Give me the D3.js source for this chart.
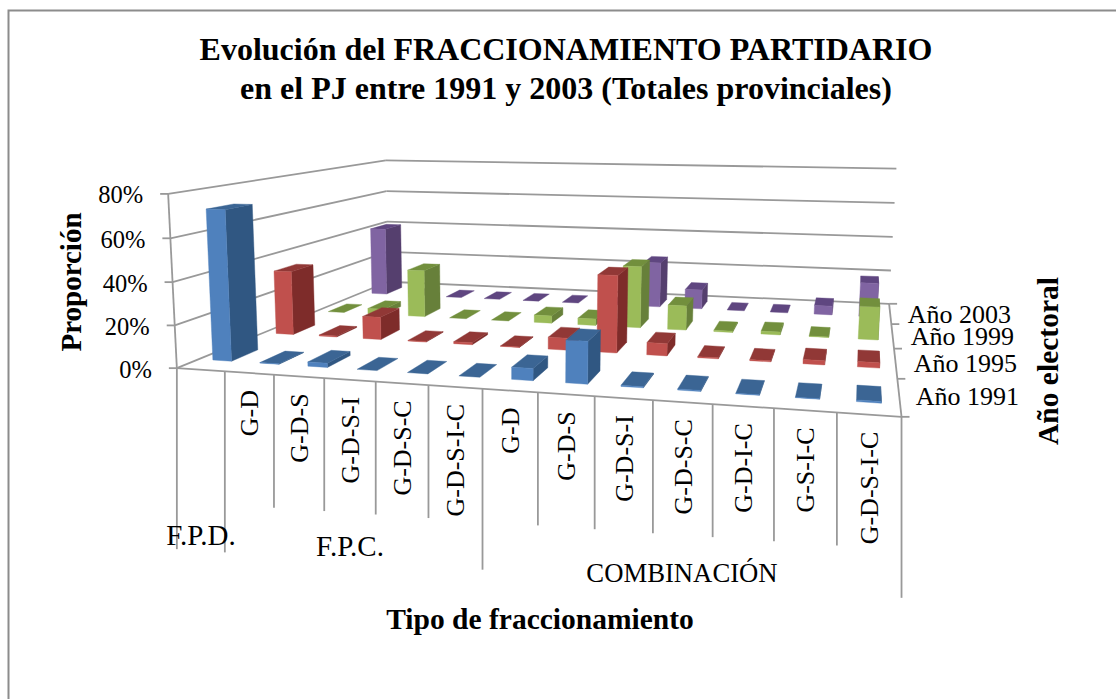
<!DOCTYPE html>
<html><head><meta charset="utf-8">
<script src="https://cdn.jsdelivr.net/npm/d3@7/dist/d3.min.js"></script>
<style>html,body{margin:0;padding:0;background:#fff}svg{display:block}text{font-family:"Liberation Serif","Times New Roman",serif;fill:#000}</style>
</head><body><div id="chart"></div>
<script>
const categories = ["", "G-D", "G-D-S", "G-D-S-I", "G-D-S-C", "G-D-S-I-C", "G-D", "G-D-S", "G-D-S-I", "G-D-S-C", "G-D-I-C", "G-S-I-C", "G-D-S-I-C"];
const groups = ["F.P.D.", "F.P.C.", "COMBINACIÓN"];
const groupBreaks = [0, 1, 6, 13];
const seriesNames = ["Año 1991", "Año 1995", "Año 1999", "Año 2003"];
const v1991 = [71.5, 0.2, 2, 0, 0, 0, 5.5, 19, 0.5, 0.5, 0.2, 0.2, 0.7];
const v1995 = [33, 0.5, 11.5, 0.3, 1, 0.2, 6, 38, 6, 0.5, 0.5, 2, 2.5];
const v1999 = [0, 3, 26, 0, 0, 4, 3.5, 33, 13, 0.7, 1.5, 0.2, 17];
const v2003 = [40.5, 0, 0, 0, 0, 0, 0, 26, 11, 0, 0, 5, 19];
const yTicks = [0, 20, 40, 60, 80];
const yMax = 80;
const seriesValues = [v1991, v1995, v1999, v2003];
const frontColors = ["#4f81bd", "#c0504d", "#9bbb59", "#8064a2"];
const topColors = ["#3b6594", "#913836", "#728f3d", "#5f4680"];
const sideColors = ["#305782", "#7e2c2a", "#67803a", "#553f6e"];

const W = 1116, H = 699;
const svg = d3.select("#chart").append("svg").attr("width", W).attr("height", H);

// Perspective camera: calibrated from the plot box corners (u along categories, v in depth, h up).
const cal = [
  [0,0,0, 178,367.5],[1,0,0, 901.5,417.5],[1,1,0, 889.5,303],[0,1,0, 387,282.5],
  [0,0,1, 167,194],[0,1,1, 387,160],[1,1,1, 896,169]
];
function solveCamera(points){
  const A = [], b = [];
  points.forEach(([u,v,h,x,y]) => {
    A.push([u,v,h,1,0,0,0,0,-x*u,-x*v,-x*h]); b.push(x);
    A.push([0,0,0,0,u,v,h,1,-y*u,-y*v,-y*h]); b.push(y);
  });
  const n = 11, M = [];
  for (let i=0;i<n;i++){
    const row = [];
    for (let j=0;j<n;j++) row.push(d3.sum(A,r=>r[i]*r[j]));
    row.push(d3.sum(A,(r,k)=>r[i]*b[k]));
    M.push(row);
  }
  for (let c=0;c<n;c++){
    let p=c; for(let r=c+1;r<n;r++) if(Math.abs(M[r][c])>Math.abs(M[p][c])) p=r;
    [M[c],M[p]]=[M[p],M[c]];
    for(let r=0;r<n;r++){ if(r===c) continue; const f=M[r][c]/M[c][c]; for(let k=c;k<=n;k++) M[r][k]-=f*M[c][k]; }
  }
  return M.map((r,i)=>r[n]/r[i]);
}
const P = solveCamera(cal);
function project(u,v,h){
  const w = P[8]*u+P[9]*v+P[10]*h+1;
  return [(P[0]*u+P[1]*v+P[2]*h+P[3])/w,(P[4]*u+P[5]*v+P[6]*h+P[7])/w];
}

const xBand = d3.scaleBand().domain(d3.range(categories.length)).range([0,1]).paddingInner(0.6).paddingOuter(0.3);
const zBand = d3.scaleBand().domain(d3.range(seriesNames.length)).range([0,1]).paddingInner(0.6).paddingOuter(0.3);
const yScale = d3.scaleLinear().domain([0,yMax]).range([0,1]);
const gridColor = "#999999";
const lineGen = d3.line();

// Chart frame
svg.append("path").attr("d",lineGen([[8.5,H],[8.5,10.5],[W,10.5]])).attr("fill","none").attr("stroke","#8c8c8c").attr("stroke-width",2);

// Walls and floor lines
const gridG = svg.append("g").attr("fill","none").attr("stroke",gridColor).attr("stroke-width",1.8);
function seg(a,b){ gridG.append("path").attr("d",lineGen([a,b])); }
yTicks.forEach(t=>{
  const h=yScale(t), a=project(0,0,h), b=project(0,1,h), c=project(1,1,h);
  seg(a,b); seg(b,c); seg([a[0]-8,a[1]],a);
});
seg(project(0,0,0),project(0,0,1));
seg(project(0,0,0),project(1,0,0));
seg(project(1,0,0),project(1,1,0));
d3.range(seriesNames.length+1).forEach(i=>{
  const p=project(1,i/seriesNames.length,0); seg(p,[p[0]+8,p[1]]);
});
const shortTick=133, longTick=181;
d3.range(categories.length+1).forEach(i=>{
  const p=project(i/categories.length,0,0);
  seg(p,[p[0],p[1]+(groupBreaks.includes(i)?longTick:shortTick)]);
});

// Bars, painted far rows first and left to right
const barsG = svg.append("g");
function face(pts,color){ barsG.append("path").attr("d",lineGen(pts)+"Z").attr("fill",color).attr("stroke",color).attr("stroke-width",0.4); }
d3.range(seriesValues.length).reverse().forEach(s=>{
  seriesValues[s].forEach((val,c)=>{
    const u0=xBand(c),u1=u0+xBand.bandwidth(),v0=zBand(s),v1=v0+zBand.bandwidth(),h=yScale(val);
    if(val>0) face([project(u1,v0,0),project(u1,v1,0),project(u1,v1,h),project(u1,v0,h)],sideColors[s]);
    face([project(u0,v0,h),project(u1,v0,h),project(u1,v1,h),project(u0,v1,h)],topColors[s]);
    if(val>0) face([project(u0,v0,0),project(u1,v0,0),project(u1,v0,h),project(u0,v0,h)],frontColors[s]);
  });
});

// Text
function txt(x,y,s,size,opts={}){
  const t=svg.append("text").attr("x",x).attr("y",y).attr("font-size",size).text(s);
  if(opts.bold) t.attr("font-weight","bold");
  if(opts.anchor) t.attr("text-anchor",opts.anchor);
  if(opts.rot) t.attr("transform",`rotate(-90 ${x} ${y})`);
  return t;
}
txt(566,60,"Evolución del FRACCIONAMIENTO PARTIDARIO",32,{bold:true,anchor:"middle"});
txt(566,99,"en el PJ entre 1991 y 2003 (Totales provinciales)",32,{bold:true,anchor:"middle"});
txt(540,629,"Tipo de fraccionamiento",29.5,{bold:true,anchor:"middle"});
txt(81,282,"Proporción",29,{bold:true,anchor:"middle",rot:true});
txt(1058,361,"Año electoral",29.5,{bold:true,anchor:"middle",rot:true});

yTicks.forEach(t=>{
  const p=project(0,0,yScale(t));
  txt(p[0]-25,p[1]+9.5,d3.format("d")(t)+"%",24.5,{anchor:"end"});
});
const yearAnchors=[1019,1017,1014,1011], yearBase=[405,372,345,323];
seriesNames.forEach((s,i)=>txt(yearAnchors[i],yearBase[i],s,26,{anchor:"end"}));
categories.forEach((c,i)=>{
  if(!c) return;
  const p=project((i+0.5)/categories.length,0,0);
  txt(p[0]+9,p[1]+17,c,26,{anchor:"end",rot:true});
});
txt(201,545,groups[0],29,{anchor:"middle"});
txt(350,556,groups[1],29,{anchor:"middle"});
txt(682,582,groups[2],26.7,{anchor:"middle"});
</script></body></html>
